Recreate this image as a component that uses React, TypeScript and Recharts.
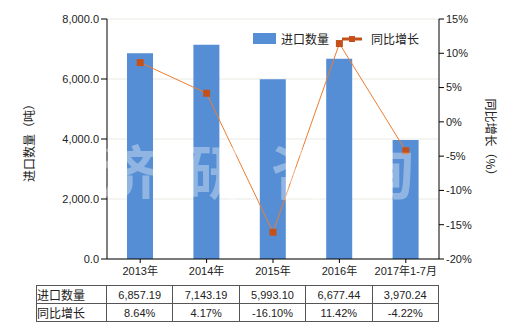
import React from 'react';
import { ComposedChart, Bar, Line, XAxis, YAxis, CartesianGrid } from 'recharts';

const categories = ['2013年', '2014年', '2015年', '2016年', '2017年1-7月'];
const importQty = [6857.19, 7143.19, 5993.1, 6677.44, 3970.24];
const yoyGrowth = [8.64, 4.17, -16.1, 11.42, -4.22];
const leftTicks = [0, 2000, 4000, 6000, 8000];
const rightTicks = [-20, -15, -10, -5, 0, 5, 10, 15];
const qtyLabels = ['6,857.19', '7,143.19', '5,993.10', '6,677.44', '3,970.24'];
const growthLabels = ['8.64%', '4.17%', '-16.10%', '11.42%', '-4.22%'];

const FONT = '"Liberation Sans", "Noto Sans CJK SC", sans-serif';
const CJK = '"Noto Sans CJK SC", sans-serif';
const BAR = '#558ed5';
const LINE = '#ed7d31';
const MARK = '#c5511a';

const data = categories.map((c, i) => ({ name: c, qty: importQty[i], yoy: yoyGrowth[i] }));

const SquareDot = (props: any) => {
  const { cx, cy } = props;
  if (cx == null || cy == null) return null;
  return <rect x={cx - 3.5} y={cy - 3.5} width={7} height={7} fill={MARK} />;
};

const tickStyle = { fontSize: 11, fill: '#222', fontFamily: FONT };

export default function App() {
  const cell: React.CSSProperties = { border: '1px solid #555', padding: 0, textAlign: 'center', height: 17 };
  return (
    <div style={{ position: 'absolute', left: 0, top: 0, width: 520, height: 330, background: '#fff', fontFamily: FONT }}>
      <ComposedChart width={520} height={330} data={data} margin={{ top: 19, right: 0, bottom: 41, left: 0 }} barCategoryGap="60%">
        <CartesianGrid yAxisId="left" vertical={false} stroke="#e9e9e4" />
        <XAxis dataKey="name" axisLine={{ stroke: '#000' }} tickLine={{ stroke: '#000' }} tickSize={4} tickMargin={4} tick={tickStyle} height={30} interval={0} />
        <YAxis yAxisId="left" domain={[0, 8000]} ticks={leftTicks} width={107} axisLine={{ stroke: '#000' }} tickLine={{ stroke: '#000' }} tickSize={6} tickMargin={2} tick={tickStyle} tickFormatter={(v: number) => v.toLocaleString('en-US', { minimumFractionDigits: 1, maximumFractionDigits: 1 })} />
        <YAxis yAxisId="right" orientation="right" domain={[-20, 15]} ticks={rightTicks} width={81} axisLine={{ stroke: '#000' }} tickLine={{ stroke: '#000' }} tickSize={5} tickMargin={2} tick={tickStyle} tickFormatter={(v: number) => `${v}%`} />
        <Bar yAxisId="left" dataKey="qty" fill={BAR} barSize={26} isAnimationActive={false} />
        <Line yAxisId="right" dataKey="yoy" type="linear" stroke={LINE} strokeWidth={1} dot={<SquareDot />} activeDot={false} isAnimationActive={false} />
      </ComposedChart>

      {/* watermark */}
      <svg width={520} height={330} style={{ position: 'absolute', left: 0, top: 0, pointerEvents: 'none' }}>
        {['济', '研', '咨', '询'].map((ch, i) => (
          <text key={ch} x={130 + i * 85} y={194} textAnchor="middle" fontSize={58} fontWeight={700} fontFamily={CJK} fill="#fff" fillOpacity={0.35}>{ch}</text>
        ))}
      </svg>

      {/* axis titles */}
      <div style={{ position: 'absolute', left: 28, top: 140, transform: 'translate(-50%, -50%) rotate(-90deg)', whiteSpace: 'nowrap', fontSize: 12, color: '#222', fontFamily: CJK }}>进口数量（吨）</div>
      <div style={{ position: 'absolute', left: 491, top: 140, transform: 'translate(-50%, -50%) rotate(90deg)', whiteSpace: 'nowrap', fontSize: 12, color: '#222', fontFamily: CJK }}>同比增长（%）</div>

      {/* legend */}
      <div style={{ position: 'absolute', left: 253, top: 30, display: 'flex', alignItems: 'center', fontSize: 12, color: '#222', fontFamily: CJK }}>
        <span style={{ display: 'inline-block', width: 23, height: 11, background: BAR, marginRight: 5 }} />
        <span>进口数量</span>
        <svg width={22} height={12} style={{ marginLeft: 12, marginRight: 8 }}>
          <line x1={1} y1={6} x2={21} y2={6} stroke={MARK} strokeWidth={3} />
          <rect x={8} y={3} width={6} height={6} fill={MARK} />
        </svg>
        <span>同比增长</span>
      </div>

      {/* data table */}
      <table style={{ position: 'absolute', left: 36, top: 285, borderCollapse: 'collapse', tableLayout: 'fixed', fontSize: 11, color: '#222', fontFamily: FONT }}>
        <colgroup>
          <col style={{ width: 70 }} />
          {categories.map((c) => <col key={c} style={{ width: 66.4 }} />)}
        </colgroup>
        <tbody>
          <tr>
            <td style={{ ...cell, textAlign: 'left', fontSize: 12, fontFamily: CJK }}>进口数量</td>
            {qtyLabels.map((v, i) => <td key={i} style={cell}>{v}</td>)}
          </tr>
          <tr>
            <td style={{ ...cell, textAlign: 'left', fontSize: 12, fontFamily: CJK }}>同比增长</td>
            {growthLabels.map((v, i) => <td key={i} style={cell}>{v}</td>)}
          </tr>
        </tbody>
      </table>
    </div>
  );
}
